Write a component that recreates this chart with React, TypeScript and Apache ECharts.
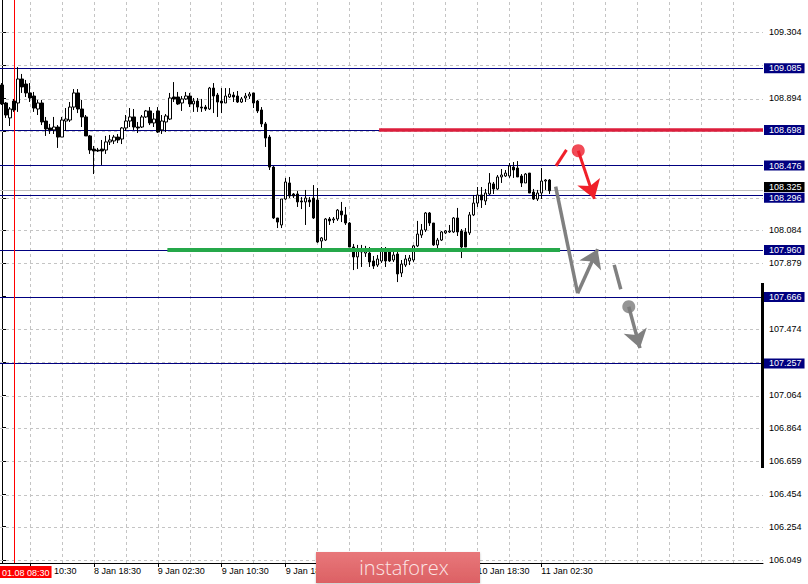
import React, { useEffect, useRef } from "react";
import * as echarts from "echarts";

// ---- candle data (USD/JPY M30) ----
const opens = [108.977,108.866,108.774,108.878,108.866,109.014,108.983,108.928,108.909,108.829,108.866,108.755,108.712,108.700,108.718,108.656,108.755,108.761,108.841,108.928,108.829,108.780,108.663,108.582,108.576,108.582,108.576,108.626,108.632,108.656,108.644,108.712,108.755,108.780,108.718,108.718,108.780,108.817,108.743,108.817,108.700,108.749,108.767,108.903,108.903,108.866,108.891,108.909,108.860,108.878,108.841,108.841,108.829,108.958,108.915,108.878,108.866,108.903,108.915,108.909,108.872,108.897,108.909,108.928,108.878,108.823,108.737,108.656,108.471,108.157,108.114,108.274,108.373,108.305,108.305,108.262,108.256,108.268,108.280,108.268,108.015,108.021,108.151,108.145,108.151,108.200,108.176,108.126,107.978,107.917,107.966,107.941,107.941,107.892,107.867,107.892,107.960,107.960,107.898,107.935,107.818,107.867,107.892,107.898,107.985,108.052,108.083,108.188,108.126,107.991,108.021,108.065,108.071,108.071,108.157,108.077,108.071,108.065,108.176,108.249,108.299,108.262,108.305,108.367,108.336,108.410,108.416,108.416,108.471,108.465,108.416,108.373,108.434,108.317,108.274,108.311,108.385,108.391];
const closes = [108.860,108.792,108.829,108.823,109.014,108.965,108.928,108.897,108.835,108.866,108.749,108.706,108.700,108.718,108.656,108.761,108.767,108.841,108.928,108.829,108.780,108.663,108.576,108.570,108.570,108.570,108.626,108.638,108.656,108.638,108.712,108.755,108.780,108.718,108.712,108.780,108.817,108.743,108.767,108.687,108.755,108.786,108.897,108.891,108.860,108.891,108.909,108.860,108.878,108.841,108.835,108.829,108.958,108.909,108.872,108.866,108.909,108.921,108.903,108.872,108.891,108.909,108.921,108.866,108.817,108.737,108.650,108.471,108.157,108.132,108.274,108.379,108.293,108.293,108.256,108.256,108.280,108.256,108.157,108.009,108.034,108.151,108.139,108.151,108.206,108.176,108.126,107.978,107.917,107.960,107.948,107.960,107.886,107.861,107.904,107.960,107.892,107.892,107.929,107.812,107.873,107.904,107.910,107.985,108.058,108.083,108.188,108.126,107.991,108.021,108.071,108.077,108.077,108.157,108.071,107.978,107.978,108.176,108.249,108.299,108.268,108.311,108.373,108.336,108.410,108.422,108.434,108.478,108.453,108.410,108.373,108.428,108.311,108.274,108.311,108.385,108.391,108.325];
const lows = [108.854,108.774,108.724,108.811,108.811,108.928,108.903,108.872,108.811,108.792,108.730,108.663,108.675,108.675,108.589,108.656,108.693,108.749,108.823,108.804,108.718,108.663,108.552,108.428,108.564,108.484,108.552,108.607,108.613,108.619,108.613,108.693,108.718,108.700,108.681,108.712,108.774,108.730,108.718,108.681,108.675,108.687,108.761,108.872,108.854,108.817,108.885,108.841,108.811,108.811,108.811,108.817,108.823,108.804,108.780,108.804,108.866,108.897,108.872,108.866,108.866,108.872,108.891,108.835,108.804,108.718,108.595,108.453,108.151,108.095,108.095,108.268,108.280,108.280,108.225,108.212,108.114,108.225,108.151,108.003,107.972,108.015,108.114,108.126,108.139,108.132,108.114,107.978,107.836,107.843,107.855,107.917,107.855,107.843,107.855,107.880,107.855,107.886,107.886,107.762,107.793,107.855,107.867,107.886,107.978,108.034,108.071,108.108,107.985,107.948,108.015,108.058,108.065,108.065,108.046,107.910,107.978,108.052,108.169,108.225,108.219,108.237,108.299,108.305,108.330,108.373,108.410,108.404,108.404,108.410,108.348,108.373,108.311,108.268,108.262,108.274,108.330,108.305];
const highs = [108.989,108.872,108.841,108.891,109.088,109.045,109.008,108.989,108.934,108.885,108.885,108.780,108.737,108.780,108.730,108.780,108.835,108.872,108.952,108.952,108.885,108.792,108.669,108.601,108.589,108.638,108.663,108.669,108.669,108.675,108.718,108.792,108.835,108.829,108.749,108.792,108.823,108.841,108.804,108.841,108.792,108.798,108.928,108.995,108.934,108.909,108.934,108.928,108.897,108.897,108.891,108.854,108.965,108.989,108.928,108.958,108.958,108.958,108.934,108.940,108.903,108.928,108.934,108.928,108.885,108.841,108.749,108.669,108.478,108.157,108.274,108.404,108.410,108.311,108.323,108.286,108.330,108.286,108.360,108.342,108.040,108.157,108.163,108.163,108.212,108.256,108.225,108.132,107.997,107.991,107.991,107.985,107.978,107.923,107.929,107.978,107.978,107.972,107.948,107.948,107.898,107.929,107.929,107.991,108.139,108.120,108.194,108.194,108.126,108.034,108.077,108.083,108.114,108.163,108.219,108.089,108.095,108.194,108.299,108.348,108.348,108.336,108.434,108.379,108.422,108.459,108.453,108.496,108.502,108.508,108.428,108.434,108.434,108.336,108.330,108.465,108.397,108.397];

// ---- axes ----
const slotCount = 191; // candle slots incl. the empty right-hand shift area
// first label is partly covered by the cursor box, two are hidden under the logo
const xTickLabels = ["10:30","8 Jan 18:30","9 Jan 02:30","9 Jan 10:30","9 Jan 18:30","","","10 Jan 18:30","11 Jan 02:30"];
const xLabelFirstIndex = 7;
const xLabelStep = 16;
const xGridStep = 8;
const gridPrices = [109.304,109.099,108.894,108.689,108.484,108.279,108.084,107.879,107.674,107.474,107.269,107.064,106.864,106.659,106.454,106.254,106.049];
const tickLabelPrices = [109.304,108.894,108.084,107.879,107.474,107.064,106.864,106.659,106.454,106.254,106.049];
const yMin = 106.030;
const yMax = 109.501;

// ---- levels ----
const levelPrices = [109.085,108.698,108.476,108.296,107.960,107.666,107.257];
const currentPrice = 108.325;
const cursorIndex = 3;
const cursorLabel = "01.08 08:30";

// ---- drawn objects [x index, price] ----
const redZone = [[94.4,108.698],[190.5,108.698]];
const greenZone = [[41.4,107.960],[139.7,107.960]];
const redSegment = [[138.7,108.478],[141.3,108.577]];
const redArrow = [[144.25,108.572],[148.3,108.275]];
const redDot = [144.25,108.572];
const graySegment1 = [[138.6,108.350],[144.1,107.693]];
const grayArrow1 = [[144.1,107.693],[149.1,107.965]];
const graySegment2 = [[153.25,107.868],[154.9,107.718]];
const grayArrow2 = [[156.9,107.610],[159.7,107.355]];
const grayDot = [156.9,107.610];

const FONT = "Liberation Sans";

export default function App() {
  const ref = useRef<HTMLDivElement>(null);
  useEffect(() => {
    if (!ref.current) return;
    const chart = echarts.init(ref.current, undefined, { renderer: "svg" });
    const cats = Array.from({ length: slotCount }, (_, i) => String(i));
    const candles = opens.map((o, i) => [o, closes[i], lows[i], highs[i]]);
    const isLabelIdx = (i: number) =>
      i >= xLabelFirstIndex && (i - xLabelFirstIndex) % xLabelStep === 0 &&
      (i - xLabelFirstIndex) / xLabelStep < xTickLabels.length;
    const vGrid: any[] = [];
    for (let i = xLabelFirstIndex; i < slotCount; i += xGridStep) vGrid.push({ xAxis: i });

    const levelLabel = (bg: string, dy: number) => ({
      show: true,
      position: "end",
      distance: 1,
      offset: [0, dy],
      formatter: (p: any) => p.name,
      color: "#fff",
      backgroundColor: bg,
      fontFamily: FONT,
      fontSize: 9,
      lineHeight: 9,
      padding: [1, 3, 0, 5],
    });

    const option: any = {
      animation: false,
      backgroundColor: "#fff",
      grid: { left: -1, top: 0, width: 764, height: 563, containLabel: false },
      xAxis: [
        {
          type: "category",
          data: cats,
          boundaryGap: true,
          axisLine: { show: true, lineStyle: { color: "#000", width: 1 } },
          axisTick: {
            show: true,
            alignWithLabel: true,
            interval: (i: number) => isLabelIdx(i),
            length: 4,
            lineStyle: { color: "#000" },
          },
          axisLabel: {
            interval: (i: number) => isLabelIdx(i),
            formatter: (v: string, i: number) => {
              const k = (i - xLabelFirstIndex) / xLabelStep;
              const t = xTickLabels[k] || "";
              return k === 0 ? `{first|${t}}` : t;
            },
            rich: { first: { padding: [0, 0, 0, 24], fontFamily: FONT, fontSize: 9, color: "#000" } },
            align: "left",
            margin: 3,
            color: "#000",
            fontFamily: FONT,
            fontSize: 9,
          },
          splitLine: { show: false },
        },
        { type: "value", min: -0.5, max: slotCount - 0.5, show: false },
      ],
      yAxis: {
        type: "value",
        position: "right",
        min: yMin,
        max: yMax,
        axisLine: { show: true, lineStyle: { color: "#000", width: 1 } },
        axisTick: { show: true, customValues: gridPrices, length: 4, lineStyle: { color: "#000" } },
        axisLabel: {
          customValues: tickLabelPrices,
          formatter: (v: number) => v.toFixed(3),
          margin: 6,
          color: "#000",
          fontFamily: FONT,
          fontSize: 9,
        },
        splitLine: { show: false },
      },
      series: [
        {
          name: "grid",
          type: "line",
          xAxisIndex: 1,
          data: [],
          z: 1,
          markLine: {
            z: 1,
            silent: true,
            symbol: "none",
            label: { show: false },
            lineStyle: { color: "#c4c4c4", type: [3, 3], width: 1 },
            data: [...gridPrices.map((p) => ({ yAxis: p })), ...vGrid],
          },
        },
        {
          name: "levels",
          type: "line",
          xAxisIndex: 1,
          data: [],
          z: 2,
          markLine: {
            z: 2,
            silent: true,
            symbol: "none",
            data: [
              { name: currentPrice.toFixed(3), yAxis: currentPrice, lineStyle: { color: "#c0c0c0", type: "solid", width: 1 }, label: levelLabel("#000", -3) },
              ...levelPrices.map((p) => ({
                name: p.toFixed(3),
                yAxis: p,
                lineStyle: { color: "#000080", type: "solid", width: 1 },
                label: levelLabel("#000080", p === 108.296 ? 3 : 0),
              })),
              { xAxis: cursorIndex, lineStyle: { color: "#ff0000", type: "solid", width: 1 }, label: { show: false } },
            ],
          },
        },
        {
          name: "USDJPY",
          type: "candlestick",
          z: 3,
          barWidth: 3,
          data: candles,
          itemStyle: { color: "#fff", color0: "#000", borderColor: "#000", borderColor0: "#000", borderWidth: 1 },
        },
        {
          name: "zones",
          type: "lines",
          coordinateSystem: "cartesian2d",
          xAxisIndex: 1,
          z: 4,
          symbol: "none",
          data: [
            { coords: redZone, lineStyle: { color: "#dc1e3c", width: 3.5, opacity: 1 } },
            { coords: greenZone, lineStyle: { color: "#25a84a", width: 4, opacity: 1 } },
          ],
        },
        {
          name: "segments",
          type: "lines",
          coordinateSystem: "cartesian2d",
          xAxisIndex: 1,
          z: 5,
          symbol: "none",
          data: [
            { coords: redSegment, lineStyle: { color: "#f0202a", width: 3, opacity: 1 } },
            { coords: graySegment1, lineStyle: { color: "#808080", width: 3.5, opacity: 1 } },
            { coords: graySegment2, lineStyle: { color: "#808080", width: 3.5, opacity: 1 } },
          ],
        },
        {
          name: "redArrow",
          type: "lines",
          coordinateSystem: "cartesian2d",
          xAxisIndex: 1,
          z: 5,
          symbol: ["none", "arrow"],
          symbolSize: 18,
          data: [{ coords: redArrow }],
          lineStyle: { color: "#f0202a", width: 3, opacity: 1 },
        },
        {
          name: "grayArrows",
          type: "lines",
          coordinateSystem: "cartesian2d",
          xAxisIndex: 1,
          z: 5,
          symbol: ["none", "arrow"],
          symbolSize: 18,
          data: [{ coords: grayArrow1 }, { coords: grayArrow2 }],
          lineStyle: { color: "#808080", width: 3.5, opacity: 1 },
        },
        {
          name: "dots",
          type: "scatter",
          xAxisIndex: 1,
          z: 6,
          symbolSize: 13,
          data: [
            { value: redDot, itemStyle: { color: "#ee1e2d" } },
            { value: grayDot, itemStyle: { color: "#7a7a7a" } },
          ],
        },
      ],
      graphic: [
        {
          type: "rect",
          z: 100,
          shape: { x: 761, y: 283, width: 3, height: 185 },
          style: { fill: "#000" },
        },
        {
          type: "text",
          z: 100,
          x: 0,
          y: 566,
          style: {
            text: cursorLabel,
            fill: "#fff",
            backgroundColor: "#ff0000",
            font: `9px "${FONT}"`,
            padding: [2, 2, 1, 2],
          },
        },
        {
          type: "rect",
          z: 100,
          shape: { x: 316, y: 552, width: 164, height: 31 },
          style: {
            fill: new echarts.graphic.LinearGradient(0, 0, 0, 1, [
              { offset: 0, color: "#e8777a" },
              { offset: 1, color: "#dc6164" },
            ]),
            shadowBlur: 2,
            shadowColor: "rgba(0,0,0,0.25)",
            shadowOffsetY: 1,
          },
        },
        {
          type: "text",
          z: 101,
          x: 404,
          y: 567,
          style: {
            text: "instaforex",
            fill: "#fbe6e6",
            font: `300 20px "Open Sans"`,
            align: "center",
            verticalAlign: "middle",
          },
        },
      ],
    };
    chart.setOption(option);
    return () => chart.dispose();
  }, []);
  return (
    <div
      ref={ref}
      style={{ position: "absolute", left: 0, top: 0, width: 808, height: 584, background: "#fff" }}
    />
  );
}
